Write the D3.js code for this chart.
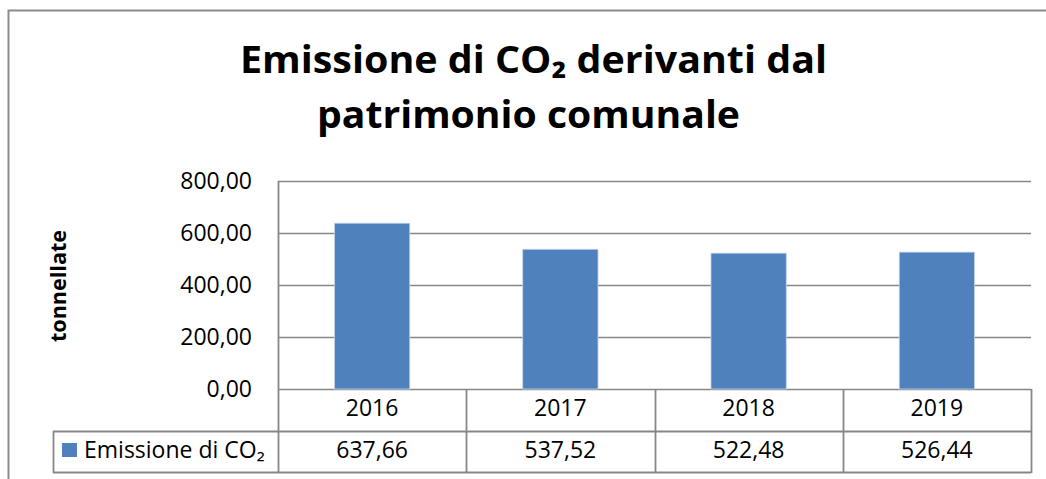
<!DOCTYPE html>
<html>
<head>
<meta charset="utf-8">
<script src="https://cdn.jsdelivr.net/npm/d3@7"></script>
<style>
  html, body { margin: 0; padding: 0; background: #fff; }
  svg { display: block; }
  text { font-family: "Open Sans", "Noto Sans", "Liberation Sans", sans-serif; fill: #000; }
</style>
</head>
<body>
<svg id="chart" width="1046" height="479"></svg>
<script>
const categories = ["2016", "2017", "2018", "2019"];
const values = [637.66, 537.52, 522.48, 526.44];
const yTicks = [0, 200, 400, 600, 800];
const seriesName = "Emissione di CO\u2082";
const titleLines = ["Emissione di CO\u2082 derivanti dal", "patrimonio comunale"];
const yAxisTitle = "tonnellate";

const svg = d3.select("#chart");
const fmt = d3.formatLocale({decimal: ",", thousands: ".", grouping: [3], currency: ["", "€"]}).format(".2f");

const plotL = 278, plotR = 1031, plotT = 181, plotB = 389;
const row1B = 431, row2B = 472, legendL = 53;
const gridColor = "#878787";
const fs = 23;

const x = d3.scaleBand().domain(categories).range([plotL, plotR]).paddingInner(0).paddingOuter(0);
const y = d3.scaleLinear().domain([0, 800]).range([plotB, plotT]);

// outer chart border (cropped at right and bottom)
svg.append("path")
  .attr("d", `M8.5,${479 + 5}V10.5H${1046 + 5}`)
  .attr("fill", "none").attr("stroke", "#8c8c8c").attr("stroke-width", 2);

// title
svg.append("g").selectAll("text").data(titleLines).join("text")
  .attr("x", (d, i) => i === 0 ? 533.5 : 528.5)
  .attr("y", (d, i) => 73 + i * 55)
  .attr("text-anchor", "middle")
  .attr("font-size", 38).attr("font-weight", "bold")
  .attr("textLength", (d, i) => i === 0 ? 587 : 423)
  .attr("lengthAdjust", "spacingAndGlyphs")
  .text(d => d);

// gridlines
svg.append("g").selectAll("line").data(yTicks).join("line")
  .attr("x1", plotL).attr("x2", plotR)
  .attr("y1", d => Math.round(y(d)) + 0.5).attr("y2", d => Math.round(y(d)) + 0.5)
  .attr("stroke", gridColor).attr("stroke-width", 1.6);

// bars
svg.append("g").selectAll("rect").data(values).join("rect")
  .attr("x", (d, i) => x(categories[i]) + x.bandwidth() * 0.3)
  .attr("width", x.bandwidth() * 0.4)
  .attr("y", d => y(d))
  .attr("height", d => y(0) - y(d))
  .attr("fill", "#4f81bd")
  .attr("stroke", "#c6d4ea").attr("stroke-width", 0.8);

// y axis labels
const yAxis = d3.axisLeft(y).tickValues(yTicks).tickFormat(fmt).tickSize(0).tickPadding(26);
const ya = svg.append("g").attr("transform", `translate(${plotL},0)`).call(yAxis);
ya.select(".domain").remove();
ya.selectAll("text").attr("font-size", fs).attr("font-family", null).attr("dy", "0.34em");

// y axis title
svg.append("text")
  .attr("transform", `translate(66,286) rotate(-90)`)
  .attr("text-anchor", "middle")
  .attr("font-size", 21).attr("font-weight", "bold")
  .attr("textLength", 112).attr("lengthAdjust", "spacingAndGlyphs")
  .text(yAxisTitle);

// data table
const tbl = svg.append("g").attr("stroke", gridColor).attr("stroke-width", 1.8).attr("fill", "none");
tbl.append("line").attr("x1", legendL).attr("x2", plotR).attr("y1", row1B + 0.5).attr("y2", row1B + 0.5);
tbl.append("line").attr("x1", legendL).attr("x2", plotR).attr("y1", row2B + 0.5).attr("y2", row2B + 0.5);
tbl.append("line").attr("x1", legendL + 0.5).attr("x2", legendL + 0.5).attr("y1", row1B).attr("y2", row2B + 1);
tbl.append("line").attr("x1", plotL + 0.5).attr("x2", plotL + 0.5).attr("y1", plotT).attr("y2", row2B + 1);
tbl.selectAll("line.col").data(categories).join("line").attr("class", "col")
  .attr("x1", d => Math.round(x(d) + x.bandwidth()) + 0.5)
  .attr("x2", d => Math.round(x(d) + x.bandwidth()) + 0.5)
  .attr("y1", plotB).attr("y2", row2B + 1);

// category labels
svg.append("g").selectAll("text").data(categories).join("text")
  .attr("x", d => x(d) + x.bandwidth() / 2)
  .attr("y", 416)
  .attr("text-anchor", "middle").attr("font-size", fs)
  .text(d => d);

// value labels
svg.append("g").selectAll("text").data(values).join("text")
  .attr("x", (d, i) => x(categories[i]) + x.bandwidth() / 2)
  .attr("y", 458)
  .attr("text-anchor", "middle").attr("font-size", fs)
  .text(d => fmt(d));

// legend key
svg.append("rect").attr("x", 62).attr("y", 443).attr("width", 15).attr("height", 14).attr("fill", "#4f81bd");
svg.append("text").attr("x", 84).attr("y", 458).attr("font-size", fs).text(seriesName);
</script>
</body>
</html>
